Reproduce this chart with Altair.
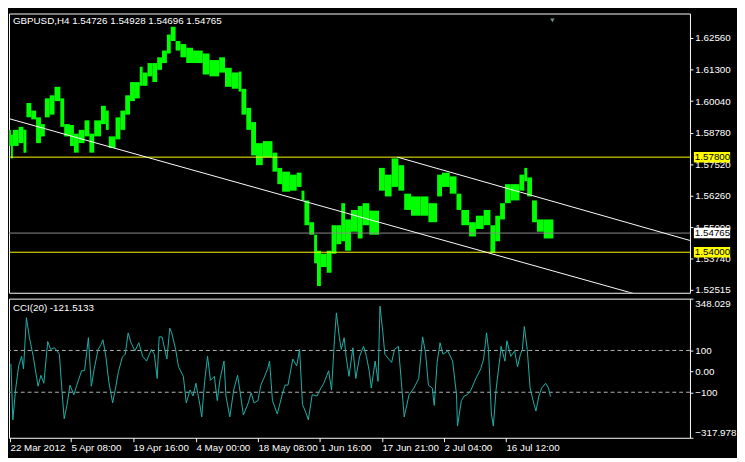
import altair as alt
import pandas as pd

# ---------------- data ----------------
# price envelope of the H4 bars, grouped in short runs of bars (bar index of run start)
seg_start = [0, 2, 4, 10, 15, 18, 23, 28, 33, 37,
             42, 47, 53, 57, 63, 67, 72, 78, 83, 88,
             95, 100, 103, 110, 115, 120, 125, 130, 135, 138,
             143, 148, 153, 158, 163, 167, 172, 177, 183, 190,
             200, 207, 217, 223, 230, 237, 240, 245, 250, 255,
             262, 272, 277, 282, 290, 297, 302, 305, 310, 315,
             318, 322, 328, 333, 338, 343, 347, 353, 360, 365,
             372, 382, 388, 395, 402, 408, 415, 425, 433, 442,
             447, 455, 462, 467, 475, 482, 490, 497, 502, 507,
             512, 518, 527, 532, 535, 540, 545, 552]
last_bar = 562
seg_high = [1.5889, 1.5870, 1.5889, 1.5901, 1.5889, 1.5996, 1.5966, 1.5939, 1.5912, 1.6015,
            1.6027, 1.6061, 1.6015, 1.5912, 1.5908, 1.5874, 1.5889, 1.5927, 1.5874, 1.5927,
            1.5985, 1.5966, 1.5863, 1.5939, 1.5966, 1.6027, 1.6080, 1.6080, 1.6141, 1.6118,
            1.6156, 1.6156, 1.6179, 1.6206, 1.6270, 1.6301, 1.6244, 1.6232, 1.6217, 1.6206,
            1.6194, 1.6168, 1.6179, 1.6137, 1.6118, 1.6122, 1.6053, 1.5977, 1.5920, 1.5836,
            1.5844, 1.5798, 1.5737, 1.5722, 1.5710, 1.5718, 1.5646, 1.5607, 1.5520, 1.5470,
            1.5406, 1.5394, 1.5406, 1.5508, 1.5508, 1.5596, 1.5531, 1.5569, 1.5585, 1.5596,
            1.5566, 1.5737, 1.5710, 1.5775, 1.5748, 1.5634, 1.5623, 1.5623, 1.5596, 1.5710,
            1.5718, 1.5703, 1.5634, 1.5569, 1.5520, 1.5546, 1.5569, 1.5508, 1.5546, 1.5596,
            1.5672, 1.5672, 1.5710, 1.5737, 1.5699, 1.5607, 1.5531, 1.5531]
seg_low = [1.5825, 1.5775, 1.5825, 1.5836, 1.5798, 1.5939, 1.5931, 1.5836, 1.5863, 1.5939,
           1.5950, 1.6004, 1.5901, 1.5863, 1.5825, 1.5798, 1.5836, 1.5863, 1.5798, 1.5863,
           1.5912, 1.5889, 1.5817, 1.5851, 1.5889, 1.5950, 1.6004, 1.6015, 1.6065, 1.6065,
           1.6103, 1.6080, 1.6129, 1.6156, 1.6194, 1.6244, 1.6206, 1.6179, 1.6156, 1.6156,
           1.6110, 1.6103, 1.6118, 1.6061, 1.6053, 1.6042, 1.5950, 1.5889, 1.5787, 1.5748,
           1.5779, 1.5722, 1.5672, 1.5642, 1.5646, 1.5661, 1.5607, 1.5508, 1.5470, 1.5356,
           1.5265, 1.5341, 1.5318, 1.5394, 1.5432, 1.5444, 1.5406, 1.5482, 1.5455, 1.5508,
           1.5470, 1.5646, 1.5623, 1.5661, 1.5646, 1.5569, 1.5546, 1.5546, 1.5520, 1.5623,
           1.5661, 1.5634, 1.5569, 1.5508, 1.5463, 1.5493, 1.5508, 1.5398, 1.5444, 1.5531,
           1.5596, 1.5607, 1.5646, 1.5684, 1.5623, 1.5520, 1.5482, 1.5455]
seg_end = seg_start[1:] + [last_bar]

# CCI(20)
cci_bar = [2, 4, 7, 10, 13, 15, 18, 21, 25, 30,
           33, 36, 40, 43, 47, 52, 55, 57, 60, 63,
           67, 70, 75, 78, 82, 85, 88, 92, 95, 97,
           100, 103, 107, 110, 113, 117, 120, 123, 126, 130,
           134, 138, 142, 147, 150, 153, 155, 158, 163, 166,
           168, 172, 175, 180, 183, 187, 190, 193, 197, 199,
           202, 205, 208, 212, 215, 218, 222, 224, 228, 232,
           236, 238, 242, 247, 250, 253, 257, 260, 263, 267,
           269, 272, 277, 282, 285, 288, 293, 297, 300, 303,
           307, 309, 313, 318, 322, 325, 330, 333, 336, 338,
           341, 343, 346, 348, 351, 355, 358, 362, 366, 369,
           372, 374, 378, 381, 383, 386, 388, 392, 395, 398,
           402, 405, 408, 413, 418, 423, 427, 430, 433, 437,
           439, 442, 445, 448, 453, 458, 462, 463, 467, 470,
           473, 477, 482, 487, 490, 493, 495, 498, 500, 503,
           507, 508, 512, 514, 518, 522, 525, 528, 530, 532,
           535, 538, 542, 544, 547, 550, 554, 557, 559]
cci_val = [36, -232, -80, 26, 72, 12, 257, 165, 72, -71,
           -19, -57, 143, 105, 113, 82, -112, -227, -158, -66,
           -112, -66, 3, 3, 161, -71, 12, 105, 128, 151,
           72, -48, -151, -80, -1, 68, 82, 184, 137, 98,
           137, 72, 49, 105, 82, -34, 165, 165, 59, 207,
           184, 105, 22, -24, -151, -89, -118, -57, -158, -218,
           -48, 72, -43, -24, -140, -34, 49, -118, -218, -89,
           -19, -80, -209, -151, -103, -151, -140, -66, -34, 12,
           49, -140, -204, -112, -66, -66, 59, 26, 105, -158,
           -204, -232, -112, -118, -80, -57, 3, -89, 151, 280,
           165, 105, 161, 72, -24, 113, -34, 72, 120, 72,
           -1, -80, 49, -48, 312, 184, 82, 59, 43, 105,
           120, -48, -218, -112, -80, -34, 165, 89, -66, -80,
           -163, 43, 137, 82, 98, 49, -112, -262, -140, -118,
           -112, -89, -34, 12, 59, 184, 105, -204, -262, -80,
           72, 120, 49, 146, 72, 98, 22, 82, 105, 215,
           105, -80, -158, -190, -118, -80, -57, -80, -121.5]

level_prices = [1.57800, 1.54000]
bid_price = 1.54765
trend_id = ["lower", "lower", "upper", "upper"]
trend_bar = [0, 703, 401, 703]
trend_price = [1.5934, 1.5172, 1.5780, 1.5447]
shift_bar = [561]

price_ticks = [1.62560, 1.61300, 1.60040, 1.58780, 1.57520, 1.56260, 1.55000, 1.53740, 1.52515]
cci_ticks = [348.029, 100, 0, -100, -317.978]
cci_levels = [100, -100]
date_bars = [1, 64, 128, 193, 257, 321, 385, 449, 513]
date_labels = ["22 Mar 2012", "5 Apr 08:00", "19 Apr 16:00", "4 May 00:00", "18 May 08:00",
               "1 Jun 16:00", "17 Jun 21:00", "2 Jul 04:00", "16 Jul 12:00"]
title_main = "GBPUSD,H4  1.54726 1.54928 1.54696 1.54765"
title_cci = "CCI(20) -121.5133"
box_prices = [1.57800, 1.54765, 1.54000]
box_labels = ["1.57800", "1.54765", "1.54000"]
box_bg = ["#ffff00", "#ffffff", "#ffff00"]

# ---------------- chart ----------------
W = 695
H_MAIN = 285
H_CCI = 142
FONT = "Liberation Sans"
FS = 10

xscale = alt.Scale(domain=[0, 703], nice=False, zero=False)
pscale = alt.Scale(domain=[1.5238, 1.6354], nice=False, zero=False)
cscale = alt.Scale(domain=[-317.978, 348.029], nice=False, zero=False)

price_axis = alt.Axis(orient="right", values=price_ticks, format=".5f", title=None,
                      grid=False, domain=False, tickColor="white", tickSize=3,
                      labelColor="white", labelFont=FONT, labelFontSize=FS,
                      labelPadding=2, labelOverlap=False)
cci_axis = alt.Axis(orient="right", values=cci_ticks, title=None,
                    labelExpr="datum.value == 0 ? '0.00' : format(datum.value, '.3~f')",
                    grid=False, domain=False, tickColor="white", tickSize=3,
                    labelColor="white", labelFont=FONT, labelFontSize=FS,
                    labelPadding=2, labelOverlap=False, labelFlush=True)
date_expr = " : ".join(f"datum.value == {b} ? '{l}'" for b, l in zip(date_bars, date_labels)) + " : ''"
date_axis = alt.Axis(values=date_bars, labelExpr=date_expr, labelAlign="left", title=None,
                     grid=False, domain=False, tickColor="white", tickSize=4,
                     labelColor="white", labelFont=FONT, labelFontSize=FS,
                     labelPadding=1, labelOverlap=False, labelBound=False, labelFlush=False)

seg_df = pd.DataFrame({"start": seg_start, "end": seg_end, "high": seg_high, "low": seg_low})
cci_df = pd.DataFrame({"bar": cci_bar, "cci": cci_val})
lev_df = pd.DataFrame({"price": level_prices})
bid_df = pd.DataFrame({"price": [bid_price]})
tr_df = pd.DataFrame({"id": trend_id, "bar": trend_bar, "price": trend_price})
shift_df = pd.DataFrame({"bar": shift_bar})
box_df = pd.DataFrame({"price": box_prices, "label": box_labels, "bg": box_bg})

bars = alt.Chart(seg_df).mark_rect(color="#00ff00").encode(
    x=alt.X("start:Q", scale=xscale, axis=None),
    x2="end:Q",
    y=alt.Y("high:Q", scale=pscale, axis=price_axis),
    y2="low:Q",
)
levels = alt.Chart(lev_df).mark_rule(color="#ffff00", strokeWidth=1).encode(
    y=alt.Y("price:Q", scale=pscale, axis=price_axis))
bid = alt.Chart(bid_df).mark_rule(color="#8c8c8c", strokeWidth=1).encode(
    y=alt.Y("price:Q", scale=pscale, axis=price_axis))
trends = alt.Chart(tr_df).mark_line(color="white", strokeWidth=1, clip=True).encode(
    x=alt.X("bar:Q", scale=xscale, axis=None),
    y=alt.Y("price:Q", scale=pscale, axis=price_axis),
    detail="id:N",
)
shift = alt.Chart(shift_df).mark_point(shape="triangle-down", filled=True, color="#7a9090",
                                       size=20, opacity=1, strokeWidth=0).encode(
    x=alt.X("bar:Q", scale=xscale, axis=None), y=alt.value(7))
title1 = alt.Chart(pd.DataFrame({"t": [title_main]})).mark_text(
    align="left", baseline="top", color="white", font=FONT, fontSize=FS).encode(
    x=alt.value(4), y=alt.value(3), text="t:N")
box_rect = alt.Chart(box_df).transform_calculate(
    top="datum.price + 0.0021", bot="datum.price - 0.0021").mark_rect().encode(
    x=alt.value(W + 4), x2=alt.value(W + 41),
    y=alt.Y("top:Q", scale=pscale, axis=price_axis), y2="bot:Q",
    color=alt.Color("bg:N", scale=None))
box_text = alt.Chart(box_df).mark_text(align="left", baseline="middle", color="black",
                                       font=FONT, fontSize=FS).encode(
    x=alt.value(W + 5), y=alt.Y("price:Q", scale=pscale, axis=price_axis), text="label:N")

main = alt.layer(bars, levels, bid, trends, shift, title1, box_rect, box_text).properties(
    width=W, height=H_MAIN)

cci_line = alt.Chart(cci_df).mark_line(color="#20b2aa", strokeWidth=1).encode(
    x=alt.X("bar:Q", scale=xscale, axis=date_axis),
    y=alt.Y("cci:Q", scale=cscale, axis=cci_axis),
)
cci_lev = alt.Chart(pd.DataFrame({"v": cci_levels})).mark_rule(
    color="#b4b4b4", strokeDash=[4, 3], strokeWidth=1).encode(
    y=alt.Y("v:Q", scale=cscale, axis=cci_axis))
title2 = alt.Chart(pd.DataFrame({"t": [title_cci]})).mark_text(
    align="left", baseline="top", color="white", font=FONT, fontSize=FS).encode(
    x=alt.value(4), y=alt.value(5), text="t:N")

cci = alt.layer(cci_lev, cci_line, title2).properties(width=W, height=H_CCI)

chart = alt.vconcat(main, cci, spacing=2).resolve_scale(
    x="independent", y="independent").properties(
    padding=0, background="black").configure(padding=0).configure_view(
    stroke="white", strokeWidth=1, fill="black")

chart.save("out.html", embed_options={"renderer": "svg", "actions": False})
